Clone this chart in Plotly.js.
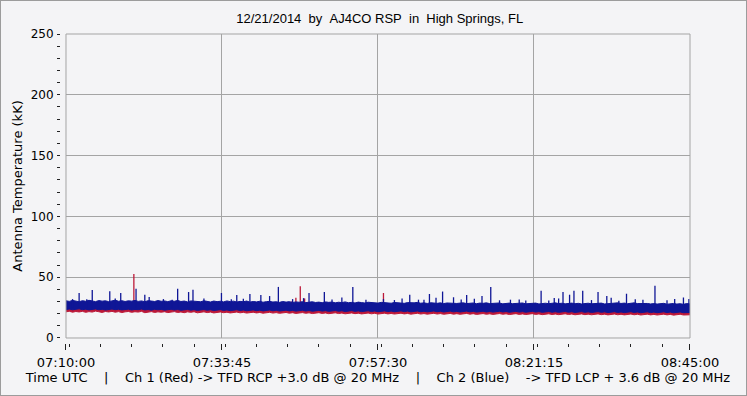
<!DOCTYPE html>
<html>
<head>
<meta charset="utf-8">
<script src="https://cdn.plot.ly/plotly-3.0.1.min.js"></script>
<style>
html,body{margin:0;padding:0;background:#f4f4f6;}
#wrap{width:745px;height:394px;border:1px solid #9c9c9c;}
#chart{width:745px;height:394px;}
</style>
</head>
<body>
<div id="wrap"><div id="chart"></div></div>
<script>
// Envelope sampling of the recording (every 30 s from 07:10:00 UTC)
const startDate = '2014-12-21';
const startSeconds = 7 * 3600 + 10 * 60;
const envelopeStepSeconds = 30;

// Ch 2 (Blue) -> TFD LCP : upper / lower edge of the noise band (kK)
const ch2BlueUpper = [
  30.6, 30.1, 30.9, 30.3, 29.8, 30.7, 30.2, 31.0, 30.4, 29.9,
  30.8, 30.3, 30.6, 29.9, 30.5, 31.1, 30.2, 30.7, 30.0, 30.6,
  30.3, 30.9, 30.1, 30.5, 29.8, 30.7, 30.4, 30.0, 30.8, 30.2,
  30.5, 29.9, 30.6, 30.2, 30.9, 30.0, 30.4, 29.7, 30.5, 30.1,
  30.3, 29.8, 30.6, 30.0, 29.6, 30.4, 29.9, 30.2, 29.7, 30.5,
  29.9, 30.3, 29.6, 30.1, 29.8, 30.4, 29.5, 30.0, 29.7, 30.2,
  29.4, 29.9, 30.1, 29.6, 29.8, 29.3, 30.0, 29.5, 29.9, 29.2,
  29.7, 29.4, 29.9, 29.1, 29.6, 29.8, 29.2, 29.5, 29.0, 29.7,
  29.3, 29.6, 28.9, 29.4, 29.1, 29.7, 29.0, 29.3, 28.8, 29.5,
  29.1, 28.8, 29.4, 29.0, 29.2, 28.7, 29.3, 28.9, 29.1, 28.6,
  29.2, 28.8, 29.0, 28.5, 29.1, 28.7, 28.9, 29.3, 28.6, 28.9,
  28.4, 29.0, 28.7, 28.5, 28.9, 28.3, 28.8, 28.6, 29.0, 28.4,
  28.7, 28.9, 28.3, 28.6, 28.8, 28.2, 28.7, 28.5, 28.9, 28.3,
  28.6, 28.4, 28.8, 28.1, 28.5, 28.7, 28.2, 28.6, 28.4, 28.8,
  28.1, 28.5, 28.3, 28.7, 28.0, 28.4, 28.6, 28.2, 28.5, 28.9,
  28.3, 28.6, 28.1, 28.4, 28.7, 28.2, 28.5, 28.0, 28.3, 28.6,
  28.1, 28.4, 28.2, 28.7, 28.0, 28.3, 28.8, 28.5, 28.9, 28.4,
  28.7, 28.2, 28.6, 28.9, 28.3, 28.5, 28.1, 28.4, 28.0, 28.3,
  27.9, 28.2, 28.5, 27.8, 28.1, 28.4, 27.9, 28.2, 27.7, 28.3,
  28.0
];
const ch2BlueLower = [
  23.4, 23.8, 23.2, 23.6, 24.0, 23.3, 23.7, 23.1, 23.5, 23.9,
  23.2, 23.6, 23.0, 23.5, 23.8, 23.3, 23.6, 23.1, 23.4, 23.7,
  23.0, 23.5, 23.3, 23.8, 23.1, 23.4, 22.9, 23.6, 23.2, 23.5,
  22.9, 23.3, 23.6, 23.0, 23.4, 22.8, 23.2, 23.5, 22.9, 23.3,
  22.7, 23.1, 23.4, 22.8, 23.2, 22.6, 23.0, 23.3, 22.7, 23.1,
  22.5, 22.9, 23.2, 22.6, 23.0, 22.4, 22.8, 23.1, 22.5, 22.9,
  22.3, 22.7, 23.0, 22.4, 22.8, 22.2, 22.6, 22.9, 22.3, 22.7,
  22.1, 22.5, 22.8, 22.2, 22.6, 22.0, 22.4, 22.7, 22.1, 22.5,
  21.9, 22.3, 22.6, 22.0, 22.4, 21.8, 22.2, 22.5, 21.9, 22.3,
  21.7, 22.1, 22.4, 21.8, 22.2, 21.6, 22.0, 22.3, 21.7, 22.1,
  21.6, 22.0, 22.3, 21.7, 22.1, 21.5, 21.9, 22.2, 21.6, 22.0,
  21.5, 21.9, 22.2, 21.6, 22.0, 21.4, 21.8, 22.1, 21.5, 21.9,
  21.4, 21.8, 22.1, 21.5, 21.9, 21.3, 21.7, 22.0, 21.4, 21.8,
  21.3, 21.7, 22.0, 21.4, 21.8, 21.2, 21.6, 21.9, 21.3, 21.7,
  21.2, 21.6, 21.9, 21.3, 21.7, 21.1, 21.5, 21.8, 21.2, 21.6,
  21.1, 21.5, 21.8, 21.2, 21.6, 21.0, 21.4, 21.7, 21.1, 21.5,
  21.0, 21.4, 21.7, 21.1, 21.5, 20.9, 21.3, 21.6, 21.0, 21.4,
  20.9, 21.3, 21.6, 21.0, 21.4, 20.8, 21.2, 21.5, 20.9, 21.3,
  20.8, 21.2, 21.5, 20.9, 21.3, 20.7, 21.1, 21.4, 20.8, 21.2,
  21.0
];

// Ch 1 (Red) -> TFD RCP : upper / lower edge of the noise band (kK)
const ch1RedUpper = [
  27.4, 27.9, 27.2, 27.6, 28.0, 27.3, 27.8, 27.1, 27.5, 27.8,
  27.3, 27.6, 27.0, 27.4, 27.9, 27.2, 27.7, 27.1, 27.5, 27.7,
  27.0, 27.5, 27.4, 27.8, 27.1, 27.3, 26.9, 27.6, 27.2, 27.4,
  26.9, 27.3, 27.7, 27.0, 27.4, 26.8, 27.2, 27.6, 26.9, 27.3,
  26.8, 27.1, 27.4, 26.8, 27.3, 26.6, 27.0, 27.4, 26.7, 27.1,
  26.5, 27.0, 27.2, 26.6, 27.1, 26.4, 26.8, 27.1, 26.6, 26.9,
  26.3, 26.8, 27.0, 26.4, 26.9, 26.2, 26.6, 27.0, 26.3, 26.7,
  26.1, 26.6, 26.8, 26.2, 26.7, 26.0, 26.4, 26.8, 26.1, 26.5,
  25.9, 26.4, 26.6, 26.0, 26.5, 25.8, 26.2, 26.6, 25.9, 26.3,
  25.7, 26.2, 26.4, 25.8, 26.3, 25.6, 26.0, 26.4, 25.7, 26.1,
  25.6, 26.1, 26.3, 25.7, 26.2, 25.5, 25.9, 26.3, 25.6, 26.0,
  25.5, 26.0, 26.2, 25.6, 26.1, 25.4, 25.8, 26.2, 25.5, 25.9,
  25.4, 25.9, 26.1, 25.5, 26.0, 25.3, 25.7, 26.1, 25.4, 25.8,
  25.3, 25.8, 26.0, 25.4, 25.9, 25.2, 25.6, 26.0, 25.3, 25.7,
  25.2, 25.7, 25.9, 25.3, 25.8, 25.1, 25.5, 25.9, 25.2, 25.6,
  25.1, 25.6, 25.8, 25.2, 25.7, 25.0, 25.4, 25.8, 25.1, 25.5,
  25.0, 25.5, 25.7, 25.1, 25.6, 24.9, 25.3, 25.7, 25.0, 25.4,
  24.9, 25.4, 25.6, 25.0, 25.5, 24.8, 25.2, 25.6, 24.9, 25.3,
  24.8, 25.3, 25.5, 24.9, 25.4, 24.7, 25.1, 25.5, 24.8, 25.2,
  25.0
];
const ch1RedLower = [
  21.5, 22.0, 21.2, 21.8, 21.4, 21.9, 21.1, 21.7, 21.3, 22.1,
  21.6, 21.0, 21.8, 21.4, 21.9, 21.2, 21.7, 20.9, 21.5, 21.8,
  21.1, 21.6, 21.3, 21.9, 20.8, 21.4, 21.7, 21.0, 21.5, 21.2,
  21.6, 20.9, 21.3, 21.7, 21.0, 21.4, 20.8, 21.5, 21.1, 21.6,
  20.7, 21.2, 21.5, 20.9, 21.3, 20.6, 21.1, 21.4, 20.8, 21.2,
  20.6, 21.0, 21.3, 20.7, 21.1, 20.5, 20.9, 21.2, 20.6, 21.0,
  20.4, 20.8, 21.1, 20.5, 20.9, 20.3, 20.7, 21.0, 20.4, 20.8,
  20.2, 20.6, 20.9, 20.3, 20.7, 20.1, 20.5, 20.8, 20.2, 20.6,
  20.0, 20.4, 20.7, 20.1, 20.5, 19.9, 20.3, 20.6, 20.0, 20.4,
  19.8, 20.2, 20.5, 19.9, 20.3, 19.7, 20.1, 20.4, 19.8, 20.2,
  19.7, 20.1, 20.4, 19.8, 20.2, 19.6, 20.0, 20.3, 19.7, 20.1,
  19.6, 20.0, 20.3, 19.7, 20.1, 19.5, 19.9, 20.2, 19.6, 20.0,
  19.5, 19.9, 20.2, 19.6, 20.0, 19.4, 19.8, 20.1, 19.5, 19.9,
  19.4, 19.8, 20.1, 19.5, 19.9, 19.3, 19.7, 20.0, 19.4, 19.8,
  19.3, 19.7, 20.0, 19.4, 19.8, 19.2, 19.6, 19.9, 19.3, 19.7,
  19.2, 19.6, 19.9, 19.3, 19.7, 19.1, 19.5, 19.8, 19.2, 19.6,
  19.1, 19.5, 19.8, 19.2, 19.6, 19.0, 19.4, 19.7, 19.1, 19.5,
  19.0, 19.4, 19.7, 19.1, 19.5, 18.9, 19.3, 19.6, 19.0, 19.4,
  18.9, 19.3, 19.6, 19.0, 19.4, 18.8, 19.2, 19.5, 18.9, 19.3,
  19.1
];

// Impulsive spikes above the band: time (UTC) and peak (kK)
const ch2BlueSpikeTimes = [
  '07:11:00', '07:12:00', '07:13:10', '07:14:00', '07:16:40', '07:17:30', '07:18:20', '07:20:40',
  '07:22:00', '07:22:40', '07:24:50', '07:26:10', '07:27:00', '07:28:40', '07:29:20', '07:31:00',
  '07:33:40', '07:35:10', '07:36:00', '07:37:00', '07:38:00', '07:39:40', '07:41:00', '07:42:20',
  '07:44:30', '07:46:10', '07:47:00', '07:49:20', '07:50:30', '07:52:00', '07:53:40', '07:55:40',
  '07:58:20', '08:00:00', '08:01:10', '08:02:20', '08:03:40', '08:04:30', '08:05:20', '08:06:20',
  '08:07:20', '08:09:00', '08:10:10', '08:11:00', '08:12:10', '08:13:20', '08:14:40', '08:16:00',
  '08:17:40', '08:19:00', '08:20:00', '08:22:20', '08:23:30', '08:24:20', '08:25:00', '08:25:40',
  '08:26:40', '08:27:20', '08:28:40', '08:30:00', '08:31:00', '08:32:20', '08:33:00', '08:34:10',
  '08:35:20', '08:36:40', '08:37:50', '08:39:40', '08:41:30', '08:42:40', '08:44:00', '08:44:50'
];
const ch2BlueSpikePeaks = [
  32.0, 37.0, 31.8, 39.5, 38.4, 32.4, 37.0, 40.5,
  35.6, 33.8, 32.0, 31.5, 40.5, 37.8, 39.7, 32.5,
  37.0, 31.8, 35.4, 32.3, 36.2, 35.4, 34.5, 42.0,
  32.0, 32.8, 37.0, 37.8, 31.6, 33.4, 42.0, 31.5,
  32.0, 31.2, 32.4, 35.6, 31.5, 31.4, 36.2, 33.0,
  38.2, 33.5, 31.6, 35.4, 32.2, 34.5, 42.0, 31.0,
  31.5, 31.6, 30.8, 38.9, 30.8, 32.9, 32.5, 37.8,
  35.6, 38.9, 38.9, 31.2, 37.8, 34.5, 33.0, 30.6,
  36.4, 31.8, 31.5, 43.0, 31.0, 32.0, 33.3, 32.0
];
const ch1RedSpikeTimes = ['07:20:20', '07:44:20', '07:45:00', '07:45:40', '07:46:20', '07:58:20'];
const ch1RedSpikePeaks = [52.6, 30.0, 33.0, 42.6, 32.5, 37.0];

const xTickStart = '2014-12-21 07:10:00';
const xRangeEnd = '2014-12-21 08:45:00';
const yTickValues = [0, 50, 100, 150, 200, 250];
const yTickLabels = ['0', '50', '100', '150', '200', '250'];

const titleText = '12/21/2014\u00a0\u00a0by\u00a0\u00a0AJ4CO RSP\u00a0\u00a0in\u00a0\u00a0High Springs, FL';
const yTitleText = 'Antenna Temperature (kK)';
const xTitleText = 'Time UTC\u00a0\u00a0\u00a0\u00a0|\u00a0\u00a0\u00a0\u00a0Ch 1 (Red) -> TFD RCP +3.0 dB @ 20 MHz\u00a0\u00a0\u00a0\u00a0|\u00a0\u00a0\u00a0\u00a0Ch 2 (Blue)\u00a0\u00a0\u00a0\u00a0-> TFD LCP + 3.6 dB @ 20 MHz';

function pad(n) { return (n < 10 ? '0' : '') + n; }
function timeAt(i) {
  const s = startSeconds + i * envelopeStepSeconds;
  return startDate + ' ' + pad(Math.floor(s / 3600)) + ':' + pad(Math.floor((s % 3600) / 60)) + ':' + pad(s % 60);
}
const envTimes = ch2BlueUpper.map((_, i) => timeAt(i));

const spikeFoot = 25; // spikes rise out of the band
function spikeXY(times, peaks) {
  const x = [], y = [];
  times.forEach((t, i) => {
    const ts = startDate + ' ' + t;
    x.push(ts, ts, null);
    y.push(spikeFoot, peaks[i], null);
  });
  return { x, y };
}
const blueSp = spikeXY(ch2BlueSpikeTimes, ch2BlueSpikePeaks);
const redSp = spikeXY(ch1RedSpikeTimes, ch1RedSpikePeaks);

const redC = '#bc1838';
const blueC = '#0f1696';
const bg = '#f4f4f6';
const gridC = '#a4a4a4';
const fontMain = 'DejaVu Sans, Verdana, sans-serif';

const data = [
  { type: 'scatter', mode: 'lines', x: envTimes, y: ch1RedLower, line: { color: redC, width: 1 }, hoverinfo: 'skip' },
  { type: 'scatter', mode: 'lines', x: envTimes, y: ch1RedUpper, fill: 'tonexty', fillcolor: redC,
    line: { color: redC, width: 1 }, hoverinfo: 'skip' },
  { type: 'scatter', mode: 'lines', x: redSp.x, y: redSp.y, connectgaps: false, line: { color: redC, width: 1.3 }, hoverinfo: 'skip' },
  { type: 'scatter', mode: 'lines', x: envTimes, y: ch2BlueLower, line: { color: blueC, width: 1 }, hoverinfo: 'skip' },
  { type: 'scatter', mode: 'lines', x: envTimes, y: ch2BlueUpper, fill: 'tonexty', fillcolor: blueC,
    line: { color: blueC, width: 1 }, hoverinfo: 'skip' },
  { type: 'scatter', mode: 'lines', x: blueSp.x, y: blueSp.y, connectgaps: false, line: { color: blueC, width: 1.3 }, hoverinfo: 'skip' }
];

const layout = {
  width: 745, height: 394,
  paper_bgcolor: bg, plot_bgcolor: bg,
  showlegend: false,
  margin: { l: 59, r: 56, t: 33, b: 52 },
  font: { family: fontMain, size: 12, color: '#000' },
  title: { text: titleText, font: { family: 'Liberation Sans, Arial, sans-serif', size: 13, color: '#000' },
           x: 0.5075, xref: 'paper', xanchor: 'center', y: 1 - 17 / 394, yref: 'container', yanchor: 'middle' },
  xaxis: {
    type: 'date', domain: [0.0095, 1],
    range: [xTickStart, xRangeEnd],
    tick0: xTickStart, dtick: 1425000, tickformat: '%H:%M:%S',
    ticks: 'outside', ticklen: 6, tickcolor: '#222', tickwidth: 1,
    minor: { dtick: 285000, ticks: 'outside', ticklen: 3, tickcolor: '#222', showgrid: false },
    showgrid: true, gridcolor: gridC, gridwidth: 1,
    zeroline: false, showline: false,
    anchor: 'free', position: 0,
    tickfont: { family: fontMain, size: 13, color: '#000' },
    ticklabelstandoff: 1,
    title: { text: xTitleText, font: { family: fontMain, size: 13, color: '#000' }, standoff: 0 },
    automargin: false, fixedrange: true
  },
  yaxis: {
    domain: [0.0162, 1],
    range: [0, 250],
    tickvals: yTickValues, ticktext: yTickLabels,
    ticks: 'outside', ticklen: 2, tickcolor: '#222', tickwidth: 1,
    minor: { dtick: 10, ticks: 'outside', ticklen: 3, tickcolor: '#222', showgrid: false },
    showgrid: true, gridcolor: gridC, gridwidth: 1,
    zeroline: false, showline: false,
    anchor: 'free', position: 0,
    tickfont: { family: fontMain, size: 12, color: '#000' },
    ticklabelstandoff: 2,
    title: { text: yTitleText, font: { family: fontMain, size: 13, color: '#000' }, standoff: 4 },
    automargin: false, fixedrange: true
  },
  shapes: [
    { type: 'rect', xref: 'x domain', yref: 'y domain', x0: 0, x1: 1, y0: 0, y1: 1,
      line: { color: gridC, width: 1 }, fillcolor: 'rgba(0,0,0,0)', layer: 'above' }
  ]
};

Plotly.newPlot('chart', data, layout, { staticPlot: true, displayModeBar: false });
</script>
</body>
</html>
